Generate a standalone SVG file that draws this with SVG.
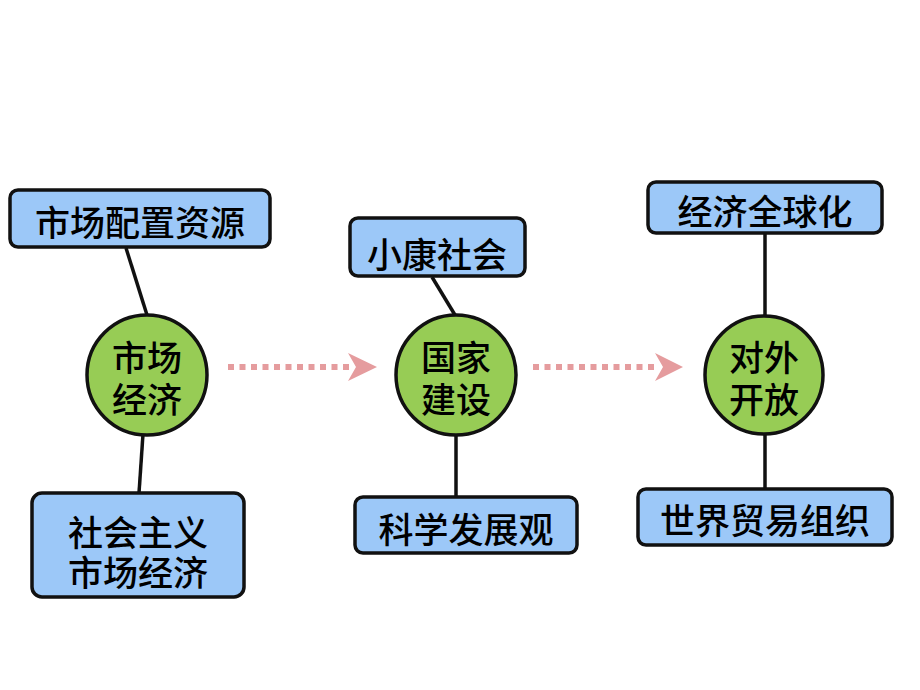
<svg xmlns="http://www.w3.org/2000/svg" width="920" height="690" viewBox="0 0 920 690">
<style>
.box{fill:#9CC8F8;stroke:#111;stroke-width:3.5}
.hub{fill:#97CC55;stroke:#111;stroke-width:3.5}
.t{font-family:"Noto Sans CJK SC","Noto Sans",sans-serif;font-size:35px;font-weight:500;fill:#000;text-anchor:middle;dominant-baseline:central}
.ln{stroke:#111;stroke-width:3.5;fill:none}
.dot{stroke:#E59C9E;stroke-width:6;stroke-dasharray:6 5.5;fill:none}
.head{fill:#E59C9E}
</style>
<rect width="920" height="690" fill="#fff"/>
<g id="connectors">
<line class="ln" x1="126" y1="248" x2="147" y2="315"/>
<line class="ln" x1="143" y1="434" x2="139" y2="493"/>
<line class="ln" x1="432" y1="277" x2="455" y2="315"/>
<line class="ln" x1="456" y1="435" x2="456" y2="497"/>
<line class="ln" x1="765" y1="233" x2="765" y2="316"/>
<line class="ln" x1="765" y1="433" x2="765" y2="489"/>
<line class="dot" x1="228" y1="367" x2="350" y2="367"/>
<polygon class="head" points="348,353 377,367 348,381 356,367"/>
<line class="dot" x1="533" y1="367" x2="656" y2="367"/>
<polygon class="head" points="655,353 683,367 655,381 663,367"/>
</g>
<g id="n-market-alloc">
<rect class="box" x="10" y="190" width="260" height="57" rx="8"/>
<text class="t" x="140" y="220">市场配置资源</text>
</g>
<g id="n-market">
<circle class="hub" cx="147" cy="375" r="60"/>
<text class="t" x="147" y="355">市场<tspan x="147" dy="42">经济</tspan></text>
</g>
<g id="n-socialist">
<rect class="box" x="32" y="493" width="212" height="104" rx="10"/>
<text class="t" x="138" y="530">社会主义<tspan x="138" dy="40">市场经济</tspan></text>
</g>
<g id="n-xiaokang">
<rect class="box" x="350" y="218" width="175" height="58" rx="8"/>
<text class="t" x="437" y="252">小康社会</text>
</g>
<g id="n-nation">
<circle class="hub" cx="456" cy="375" r="60"/>
<text class="t" x="456" y="355">国家<tspan x="456" dy="42">建设</tspan></text>
</g>
<g id="n-science">
<rect class="box" x="355" y="497" width="222" height="56" rx="8"/>
<text class="t" x="466" y="527">科学发展观</text>
</g>
<g id="n-global">
<rect class="box" x="648" y="182" width="234" height="51" rx="8"/>
<text class="t" x="765" y="209">经济全球化</text>
</g>
<g id="n-open">
<circle class="hub" cx="764" cy="375" r="59"/>
<text class="t" x="764" y="355">对外<tspan x="764" dy="42">开放</tspan></text>
</g>
<g id="n-wto">
<rect class="box" x="638" y="489" width="254" height="56" rx="8"/>
<text class="t" x="765" y="518">世界贸易组织</text>
</g>
</svg>
